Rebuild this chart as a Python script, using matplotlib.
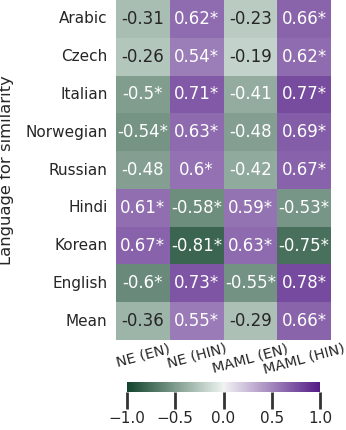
import numpy as np
import matplotlib
matplotlib.use("Agg")
import matplotlib.pyplot as plt
import seaborn as sns

languages = ["Arabic", "Czech", "Italian", "Norwegian", "Russian",
             "Hindi", "Korean", "English", "Mean"]
methods = ["NE (EN)", "NE (HIN)", "MAML (EN)", "MAML (HIN)"]

ne_en = [-0.31, -0.26, -0.5, -0.54, -0.48, 0.61, 0.67, -0.6, -0.36]
ne_hin = [0.62, 0.54, 0.71, 0.63, 0.6, -0.58, -0.81, 0.73, 0.55]
maml_en = [-0.23, -0.19, -0.41, -0.48, -0.42, 0.59, 0.63, -0.55, -0.29]
maml_hin = [0.66, 0.62, 0.77, 0.69, 0.67, -0.53, -0.75, 0.78, 0.66]

# significant correlations are marked with *
sig_ne_en = [0, 0, 1, 1, 0, 1, 1, 1, 0]
sig_ne_hin = [1, 1, 1, 1, 1, 1, 1, 1, 1]
sig_maml_en = [0, 0, 0, 0, 0, 1, 1, 1, 0]
sig_maml_hin = [1, 1, 1, 1, 1, 1, 1, 1, 1]

values = np.array([ne_en, ne_hin, maml_en, maml_hin]).T
sig = np.array([sig_ne_en, sig_ne_hin, sig_maml_en, sig_maml_hin]).T
labels = np.array(
    [[f"{v:g}" + ("*" if s else "") for v, s in zip(rv, rs)]
     for rv, rs in zip(values, sig)]
)

plt.rcParams["text.color"] = "#262626"
plt.rcParams["axes.labelcolor"] = "#262626"
plt.rcParams["xtick.color"] = "#262626"
plt.rcParams["ytick.color"] = "#262626"

cmap = sns.diverging_palette(145, 280, s=85, l=25, as_cmap=True)

fig = plt.figure(figsize=(3.46, 4.30), dpi=100)
ax = fig.add_axes([0.335, 0.2093, 0.622, 0.7907])
cax = fig.add_axes([0.367, 0.0884, 0.558, 0.0233])

sns.heatmap(
    values,
    ax=ax,
    cbar_ax=cax,
    cmap=cmap,
    vmin=-1,
    vmax=1,
    center=0,
    annot=labels,
    fmt="",
    annot_kws={"fontsize": 12},
    xticklabels=methods,
    yticklabels=languages,
    cbar_kws={"orientation": "horizontal", "ticks": [-1, -0.5, 0, 0.5, 1]},
)

ax.tick_params(axis="y", length=0, labelsize=11, pad=6)
ax.tick_params(axis="x", length=0, labelsize=10.4, pad=1)
plt.setp(ax.get_yticklabels(), rotation=0)
plt.setp(ax.get_xticklabels(), rotation=15, ha="center", va="top")
ax.set_ylabel("Language for similarity", fontsize=11.8, labelpad=8)

cax.tick_params(length=12, width=2, labelsize=11, color="#333333", pad=2)
cax.xaxis.set_major_formatter(plt.FuncFormatter(lambda v, p: f"{v:.1f}".replace("-", "\u2212")))
for s in cax.spines.values():
    s.set_visible(False)

fig.savefig("out.png", dpi=100)
